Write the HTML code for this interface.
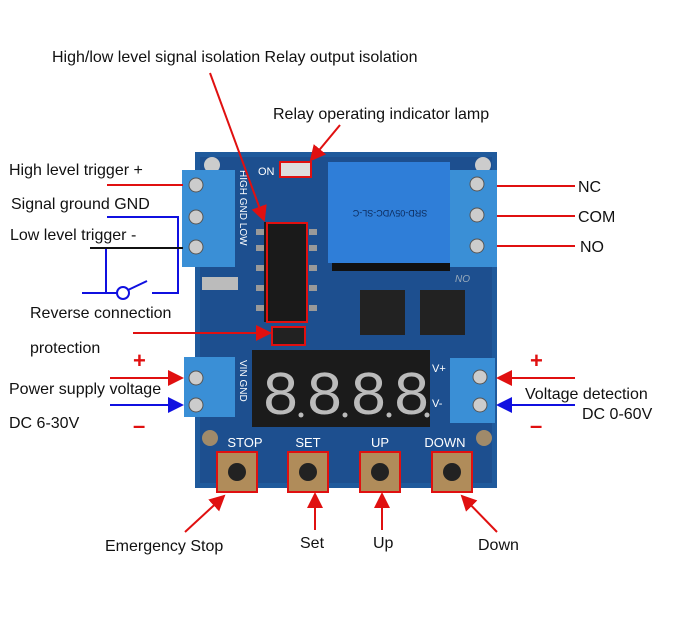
<!DOCTYPE html>
<html><head><style>
body{margin:0;background:#fff;}
svg{display:block;font-family:"Liberation Sans",sans-serif;}
.t{font-size:16px;fill:#111;}
</style></head><body>
<svg width="700" height="628" viewBox="0 0 700 628" xmlns="http://www.w3.org/2000/svg">
<defs>
<marker id="ar" markerWidth="8" markerHeight="8" refX="7" refY="4" orient="auto"><path d="M0,0 L8,4 L0,8 z" fill="#e01010"/></marker>
<marker id="ab" markerWidth="8" markerHeight="8" refX="7" refY="4" orient="auto"><path d="M0,0 L8,4 L0,8 z" fill="#1010e0"/></marker>
</defs>
<!-- board -->
<rect x="195" y="152" width="302" height="336" fill="#1f5a9c"/>
<rect x="200" y="157" width="292" height="326" fill="#1d4f8f"/>
<circle cx="212" cy="165" r="8" fill="#ccc"/><circle cx="483" cy="165" r="8" fill="#ccc"/>
<circle cx="210" cy="438" r="8" fill="#a08a6a"/><circle cx="484" cy="438" r="8" fill="#a08a6a"/>
<!-- relay -->
<rect x="328" y="162" width="122" height="101" fill="#2f7ed8"/>
<text x="390" y="180" font-size="9" fill="#0c2a5a" text-anchor="middle" transform="rotate(180 390 195)">SRD-05VDC-SL-C</text>
<rect x="332" y="263" width="118" height="8" fill="#111"/>
<!-- optos -->
<rect x="264" y="222" width="44" height="100" fill="#1a1a1a"/>
<rect x="267" y="223" width="40" height="99" fill="none" stroke="#e01010" stroke-width="2"/>
<g fill="#999"><rect x="256" y="229" width="8" height="6"/><rect x="256" y="245" width="8" height="6"/><rect x="256" y="265" width="8" height="6"/><rect x="256" y="285" width="8" height="6"/><rect x="256" y="305" width="8" height="6"/>
<rect x="309" y="229" width="8" height="6"/><rect x="309" y="245" width="8" height="6"/><rect x="309" y="265" width="8" height="6"/><rect x="309" y="285" width="8" height="6"/><rect x="309" y="305" width="8" height="6"/></g>
<rect x="202" y="277" width="36" height="13" fill="#bbb"/>
<rect x="272" y="327" width="33" height="18" fill="#222" stroke="#e01010" stroke-width="2"/>
<rect x="280" y="162" width="31" height="15" fill="#ddd" stroke="#e01010" stroke-width="2"/>
<text x="258" y="175" font-size="11" fill="#fff">ON</text>
<!-- transistors -->
<rect x="360" y="290" width="45" height="45" fill="#222"/><rect x="420" y="290" width="45" height="45" fill="#222"/>
<!-- display -->
<rect x="252" y="350" width="178" height="77" fill="#1b1b1b"/>
<g font-family="Liberation Mono" font-size="62" fill="#bbb"><text x="262" y="414">8</text><text x="306" y="414">8</text><text x="350" y="414">8</text><text x="393" y="414">8</text></g>
<g fill="#bbb"><circle cx="301" cy="415" r="2.5"/><circle cx="345" cy="415" r="2.5"/><circle cx="389" cy="415" r="2.5"/><circle cx="427" cy="415" r="2.5"/></g>
<text x="240" y="360" font-size="10" fill="#fff" transform="rotate(90 240 360)">VIN GND</text>
<text x="240" y="170" font-size="10" fill="#fff" transform="rotate(90 240 170)">HIGH GND LOW</text>
<text x="432" y="372" font-size="11" fill="#fff">V+</text><text x="432" y="407" font-size="11" fill="#fff">V-</text>
<text x="455" y="282" font-size="10" fill="#9ab" font-style="italic">NO</text>
<!-- terminals -->
<g fill="#3a8fd6"><rect x="182" y="170" width="53" height="97"/><rect x="184" y="357" width="51" height="60"/><rect x="450" y="170" width="47" height="97"/><rect x="450" y="358" width="45" height="65"/></g>
<g fill="#ccc" stroke="#555"><circle cx="196" cy="185" r="7"/><circle cx="196" cy="217" r="7"/><circle cx="196" cy="247" r="7"/><circle cx="196" cy="378" r="7"/><circle cx="196" cy="405" r="7"/>
<circle cx="477" cy="184" r="7"/><circle cx="477" cy="215" r="7"/><circle cx="477" cy="246" r="7"/><circle cx="480" cy="377" r="7"/><circle cx="480" cy="405" r="7"/></g>
<!-- buttons -->
<g font-size="13" fill="#fff" text-anchor="middle"><text x="245" y="447">STOP</text><text x="308" y="447">SET</text><text x="380" y="447">UP</text><text x="445" y="447">DOWN</text></g>
<g stroke="#e01010" stroke-width="2" fill="#b08c5a"><rect x="217" y="452" width="40" height="40"/><rect x="288" y="452" width="40" height="40"/><rect x="360" y="452" width="40" height="40"/><rect x="432" y="452" width="40" height="40"/></g>
<g fill="#222"><circle cx="237" cy="472" r="9"/><circle cx="308" cy="472" r="9"/><circle cx="380" cy="472" r="9"/><circle cx="452" cy="472" r="9"/></g>
<!-- labels -->
<text x="52" y="62" class="t">High/low level signal isolation Relay output isolation</text>
<text x="273" y="119" class="t">Relay operating indicator lamp</text>
<text x="9" y="175" class="t">High level trigger  +</text>
<text x="11" y="209" class="t">Signal ground GND</text>
<text x="10" y="240" class="t">Low level trigger -</text>
<text x="30" y="318" class="t">Reverse connection</text>
<text x="30" y="353" class="t">protection</text>
<text x="9" y="394" class="t">Power supply voltage</text>
<text x="9" y="428" class="t">DC 6-30V</text>
<text x="578" y="192" class="t">NC</text><text x="578" y="222" class="t">COM</text><text x="580" y="252" class="t">NO</text>
<text x="525" y="399" class="t">Voltage detection</text>
<text x="582" y="419" class="t">DC 0-60V</text>
<text x="105" y="551" class="t">Emergency Stop</text>
<text x="300" y="548" class="t">Set</text><text x="373" y="548" class="t">Up</text><text x="478" y="550" class="t">Down</text>
<g fill="#e01010" font-size="22" font-weight="bold"><text x="133" y="368">+</text><text x="530" y="368">+</text><text x="133" y="433">–</text><text x="530" y="433">–</text></g>
<!-- connectors -->
<g stroke="#e01010" stroke-width="2" fill="none">
<line x1="210" y1="73" x2="264" y2="220" marker-end="url(#ar)"/>
<line x1="340" y1="125" x2="311" y2="160" marker-end="url(#ar)"/>
<line x1="107" y1="185" x2="183" y2="185"/>
<line x1="133" y1="333" x2="270" y2="333" marker-end="url(#ar)"/>
<line x1="110" y1="378" x2="182" y2="378" marker-end="url(#ar)"/>
<line x1="575" y1="378" x2="498" y2="378" marker-end="url(#ar)"/>
<line x1="497" y1="186" x2="575" y2="186"/><line x1="497" y1="216" x2="575" y2="216"/><line x1="497" y1="246" x2="575" y2="246"/>
<line x1="185" y1="532" x2="224" y2="496" marker-end="url(#ar)"/>
<line x1="315" y1="530" x2="315" y2="494" marker-end="url(#ar)"/>
<line x1="382" y1="530" x2="382" y2="494" marker-end="url(#ar)"/>
<line x1="497" y1="532" x2="462" y2="496" marker-end="url(#ar)"/>
</g>
<g stroke="#1010e0" stroke-width="2" fill="none">
<line x1="110" y1="405" x2="182" y2="405" marker-end="url(#ab)"/>
<line x1="575" y1="405" x2="498" y2="405" marker-end="url(#ab)"/>
<polyline points="107,217 178,217 178,293 152,293"/>
<line x1="106" y1="248" x2="106" y2="293"/>
<line x1="82" y1="293" x2="117" y2="293"/>
<circle cx="123" cy="293" r="6"/>
<line x1="128" y1="290" x2="147" y2="281"/>
</g>
<line x1="90" y1="248" x2="183" y2="248" stroke="#111" stroke-width="2"/>
</svg>
</body></html>
